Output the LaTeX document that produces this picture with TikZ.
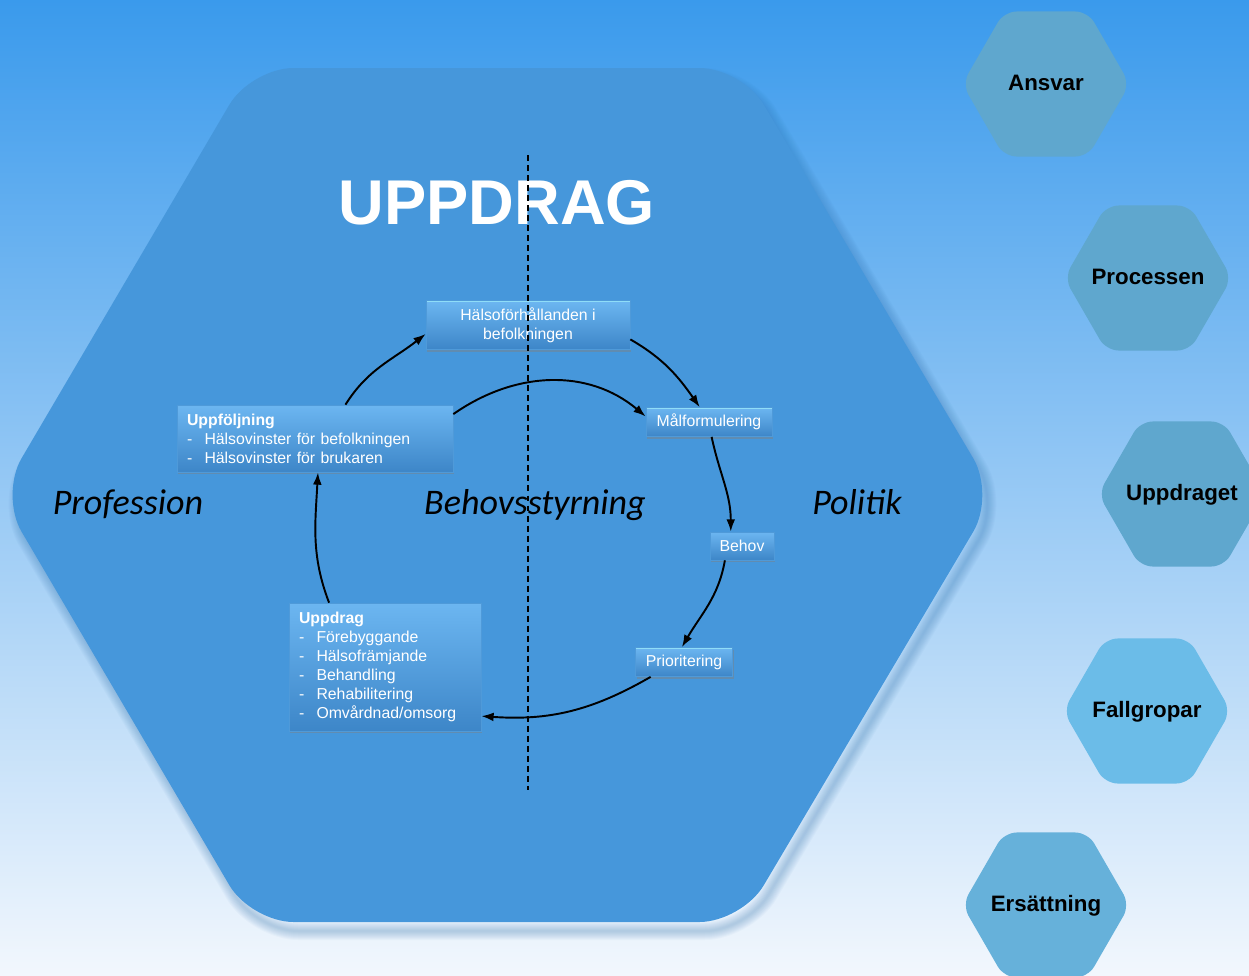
\documentclass[tikz,border=0pt]{standalone}
\usepackage{fontspec}
\setmainfont{Liberation Sans}
\newfontfamily\calfont{Carlito}
\usetikzlibrary{shapes.geometric,shadows,arrows.meta}

\definecolor{bgtop}{HTML}{3A9AEC}
\definecolor{bgmid}{HTML}{8CC3F2}
\definecolor{bgbot}{HTML}{F2F7FD}
\definecolor{bighex}{HTML}{4697DB}
\definecolor{boxtop}{HTML}{6CB6F1}
\definecolor{boxbot}{HTML}{3D86C8}
\definecolor{boxline}{HTML}{4F9AD9}
\definecolor{boxedge}{HTML}{8FDDF8}
\definecolor{hexa}{HTML}{5FA7CE}
\definecolor{hexb}{HTML}{6BBCE8}
\definecolor{hexc}{HTML}{66B1DA}
\definecolor{hexshadow}{HTML}{2B6FAE}

\newcommand{\listline}[1]{\makebox[0.35cm][l]{-}#1}
\newcommand{\hexlabel}[1]{\makebox[0pt]{#1}}

\begin{document}
\begin{tikzpicture}[x=0.02cm,y=-0.02cm,
        flow/.style={-{Latex[length=7pt,width=5pt]},line width=1.1pt,black},
        cyclebox/.style={rectangle,draw=boxline,line width=0.4pt,top color=boxtop,bottom color=boxbot,
            text=white,font=\fontsize{9}{10.8}\selectfont,inner sep=0pt,
            drop shadow={opacity=0.45,shadow xshift=0.8pt,shadow yshift=-1.4pt},
            path picture={\draw[boxedge,line width=1.4pt] (path picture bounding box.north west)
                -- (path picture bounding box.north east);}},
        listbox/.style={cyclebox,align=left,inner xsep=0.2cm},
        sidehex/.style={regular polygon,regular polygon sides=6,minimum size=3.35cm,
            rounded corners=0.25cm,inner sep=0pt,text height=1.4ex,text depth=0pt,
            font=\bfseries\fontsize{12.7}{14}\selectfont},
        sidelabel/.style={anchor=base,font=\calfont\itshape\fontsize{20.5}{24}\selectfont}]

    \useasboundingbox (0,0) rectangle (1249,975);
    \clip (0,0) rectangle (1249,975);
    \shade[top color=bgtop,middle color=bgmid,bottom color=bgbot] (0,0) rectangle (1249,975);

    % stora hexagonen, med mjuk skugga
    \foreach \w in {2,4,...,18}
        \draw[hexshadow,opacity=0.035,line width=\w*0.02cm,rounded corners=0.85cm]
            (5,504) -- (256,77) -- (747,77) -- (1000,504) -- (747,931) -- (256,931) -- cycle;
    \fill[bighex,rounded corners=0.85cm] (0,495) -- (251,68) -- (742,68) -- (995,495)
        -- (742,922) -- (251,922) -- cycle;

    % sidorna
    \node[sidehex,fill=hexa] (ansvar) at (1046,84) {\hexlabel{Ansvar}};
    \node[sidehex,fill=hexa] (processen) at (1148,278) {\hexlabel{Processen}};
    \node[sidehex,fill=hexa] (uppdraget) at (1182,494) {\hexlabel{Uppdraget}};
    \node[sidehex,fill=hexb] (fallgropar) at (1147,711) {\hexlabel{Fallgropar}};
    \node[sidehex,fill=hexc] (ersattning) at (1046,905) {\hexlabel{Ersättning}};

    \node[anchor=base,text=white,font=\bfseries\fontsize{36}{40}\selectfont] (title) at (497,224) {UPPDRAG};
    \node[sidelabel] (profession) at (128,514) {Profession};
    \node[sidelabel] (styrning) at (535,514) {Behovsstyrning};
    \node[sidelabel] (politik) at (857,514) {Politik};

    % cykeln
    \node[cyclebox,align=center,minimum width=4.08cm,minimum height=0.98cm] (halso) at (528,325)
        {Hälsoförhållanden i\\befolkningen};
    \node[cyclebox,minimum width=2.52cm,minimum height=0.58cm] (malf) at (709,422) {Målformulering};
    \node[cyclebox,minimum width=1.28cm,minimum height=0.56cm] (behov) at (742,546) {Behov};
    \node[cyclebox,minimum width=1.94cm,minimum height=0.58cm] (prior) at (684,662) {Prioritering};
    \node[listbox,text width=3.44cm,minimum height=2.56cm] (uppd) at (385,667)
        {\textbf{Uppdrag}\\\listline{Förebyggande}\\\listline{Hälsofrämjande}\\
         \listline{Behandling}\\\listline{Rehabilitering}\\\listline{Omvårdnad/omsorg}};
    \node[listbox,text width=5.12cm,minimum height=1.34cm] (uppf) at (315,438.5)
        {\textbf{Uppföljning}\\\listline{Hälsovinster för befolkningen}\\\listline{Hälsovinster för brukaren}};

    \path[flow]
    (uppf.48) edge[out=58,in=218] (halso.185)
    (halso.-8) edge[out=-30,in=125] (malf.122)
    (uppf.10) edge[out=35,in=140] (malf.175)
    (malf.-80) edge[out=-78,in=90] (behov.128)
    (behov.-140) edge[out=-100,in=60] (prior.98)
    (prior.-156) edge[out=-150,in=-4] (uppd.-27)
    (uppd.131) edge[out=111,in=-93] (uppf.-85);

    \coordinate (dtop) at (528,155);
    \coordinate (dbot) at (528,790);
    \draw[dash pattern=on 3.4pt off 2.3pt,line width=0.6pt] (dtop) -- (dbot);

\end{tikzpicture}
\end{document}
